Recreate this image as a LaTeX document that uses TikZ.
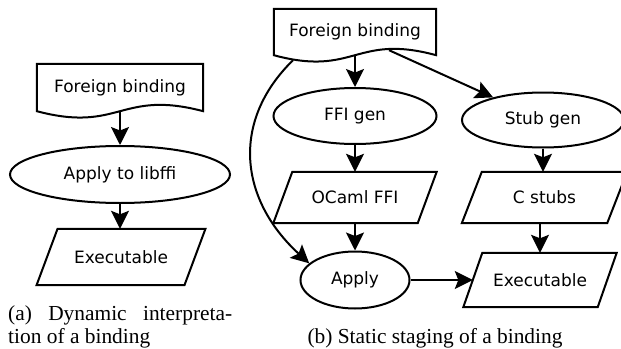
\documentclass[tikz,border=0pt]{standalone}
\usepackage{fontspec}
\setmainfont{Liberation Serif}
\newfontfamily\dejavu{DejaVu Sans}
\usetikzlibrary{shapes.geometric,arrows.meta,calc}

\newcommand\paral[2]{\draw[edge] ([xshift=#2pt]#1.north west) -- ([xshift=#2pt]#1.north east) -- ([xshift=-#2pt]#1.south east) -- ([xshift=-#2pt]#1.south west) -- cycle;}
\newcommand\docshape[1]{\draw[edge] (#1.north west) -- (#1.north east) -- (#1.south east) .. controls ([yshift=22pt]#1.south) and ([yshift=-22pt]#1.south) .. (#1.south west) -- cycle;}

\begin{document}
\begin{tikzpicture}[x=1pt,y=-1pt,
  lbl/.style={font=\dejavu\fontsize{17}{20}\selectfont, inner sep=0pt},
  ell/.style={lbl, ellipse, draw, line width=2pt},
  box/.style={lbl, rectangle},
  edge/.style={line width=2pt, line join=miter},
  arr/.style={line width=2pt, -{Stealth[length=18pt,width=18pt,inset=3.5pt]}},
  capt/.style={font=\fontsize{21.4}{21.5}\selectfont, inner sep=0pt}
]
\useasboundingbox (0,0) rectangle (621,348);

% (a)
\node[box, minimum width=166pt, minimum height=47pt] (docA) at (120,87.5) {Foreign binding};
\docshape{docA}
\node[ell, minimum width=220pt, minimum height=57pt] (ellA) at (120,174.5) {Apply to libffi};
\node[box, minimum width=147.5pt, minimum height=56pt] (execA) at (121,257) {Executable};
\paral{execA}{10.5}
\draw[arr] (docA.south) -- (ellA.north);
\draw[arr] (ellA.south) -- (ellA.south |- execA.north);

% (b)
\node[box, minimum width=162pt, minimum height=46pt] (docB) at (355,32) {Foreign binding};
\docshape{docB}
\node[ell, minimum width=163pt, minimum height=56pt] (ffi) at (355,116) {FFI gen};
\node[ell, minimum width=162pt, minimum height=55pt] (stub) at (543,120) {Stub gen};
\node[box, minimum width=144pt, minimum height=51pt] (ocaml) at (355,197.5) {OCaml FFI};
\paral{ocaml}{9.5}
\node[box, minimum width=145pt, minimum height=51pt] (cstubs) at (544.5,197.5) {C stubs};
\paral{cstubs}{10}
\node[ell, minimum width=109pt, minimum height=57pt] (apply) at (355,280) {Apply};
\node[box, minimum width=134pt, minimum height=54pt] (execB) at (540,280) {Executable};
\paral{execB}{9.5}

\draw[arr] (docB.south) -- (ffi.north);
\draw[arr] ([shift={(34,-5)}]docB.south) -- (stub);
\draw[arr] ([shift={(-62,5)}]docB.south) .. controls (230,122) and (240,200) .. (apply.160);
\draw[arr] (ffi) -- (ocaml);
\draw[arr] (stub.south) -- (stub.south |- cstubs.north);
\draw[arr] (ocaml) -- (apply);
\draw[arr] (cstubs.south -| execB.north) -- (execB.north);
\draw[arr] (apply) -- (execB);

% captions
\node[capt, anchor=base west] (capA1) at (8,320.5) {\makebox[224pt][s]{(a) Dynamic interpreta-}};
\node[capt, anchor=base west] (capA2) at (8,343) {tion of a binding};
\node[capt, anchor=base] (capB) at (435,343) {(b) Static staging of a binding};
\end{tikzpicture}
\end{document}
